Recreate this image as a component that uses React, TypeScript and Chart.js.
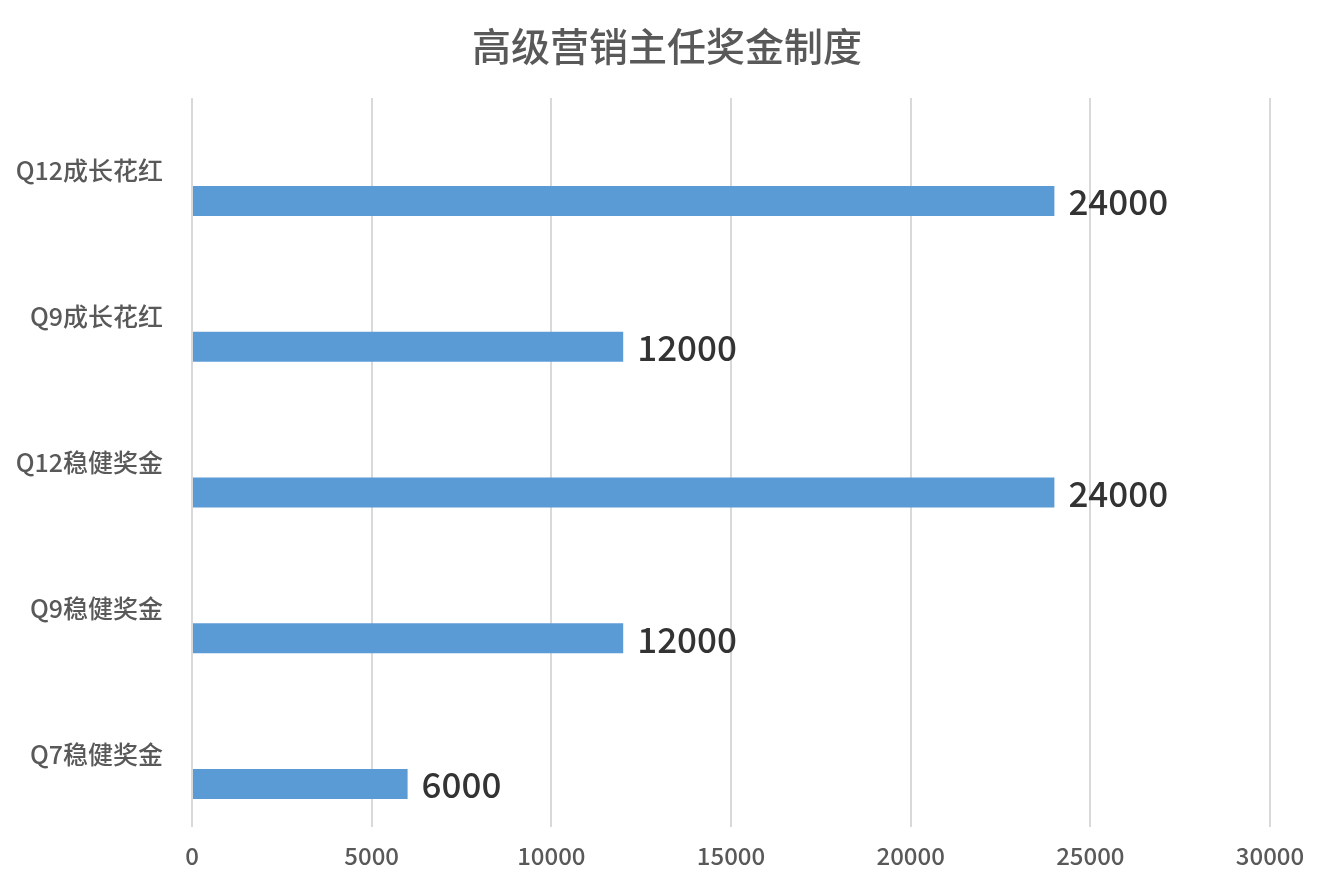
import React, { useEffect, useRef } from "react";
import { Chart, registerables } from "chart.js";

Chart.register(...registerables);

const categories = ["Q12成长花红", "Q9成长花红", "Q12稳健奖金", "Q9稳健奖金", "Q7稳健奖金"];
const emptySeries: (number | null)[] = [null, null, null, null, null];
const bonusValues = [24000, 12000, 24000, 12000, 6000];
const xTickMin = 0;
const xTickMax = 30000;
const xTickStep = 5000;
const titleText = "高级营销主任奖金制度";

const FONT = '"Noto Sans CJK SC", "Noto Sans", sans-serif';

const W = 1334;
const H = 890;

export default function App() {
  const ref = useRef<HTMLCanvasElement | null>(null);

  useEffect(() => {
    if (!ref.current) return;
    const titlePlugin = {
      id: "customTitle",
      afterDraw(chart: any) {
        const ctx = chart.ctx;
        ctx.save();
        ctx.fillStyle = "#595959";
        ctx.font = `500 39px ${FONT}`;
        ctx.textAlign = "center";
        ctx.textBaseline = "middle";
        ctx.fillText(titleText, 667, 46);
        ctx.restore();
      },
    };
    const labelPlugin = {
      id: "valueLabels",
      afterDatasetsDraw(chart: any) {
        const ctx = chart.ctx;
        const meta = chart.getDatasetMeta(1);
        ctx.save();
        ctx.fillStyle = "#333333";
        ctx.font = `500 35px ${FONT}`;
        ctx.textAlign = "left";
        ctx.textBaseline = "middle";
        meta.data.forEach((el: any, i: number) => {
          const v = bonusValues[i];
          ctx.fillText(String(v), el.x + 14, el.y + 1);
        });
        ctx.restore();
      },
    };
    const chart = new Chart(ref.current, {
      type: "bar",
      data: {
        labels: categories,
        datasets: [
          {
            label: "",
            data: emptySeries,
            backgroundColor: "#5b9bd5",
            categoryPercentage: 0.823,
            barPercentage: 0.5,
          } as any,
          {
            label: "奖金",
            data: bonusValues,
            backgroundColor: "#5b9bd5",
            categoryPercentage: 0.823,
            barPercentage: 0.5,
          } as any,
        ],
      },
      options: {
        indexAxis: "y",
        responsive: false,
        animation: false,
        layout: { padding: { top: 98, right: 64, left: 0, bottom: 0 } },
        plugins: {
          legend: { display: false },
          title: { display: false },
          tooltip: { enabled: false },
        },
        scales: {
          x: {
            type: "linear",
            min: xTickMin,
            max: xTickMax,
            ticks: {
              stepSize: xTickStep,
              color: "#595959",
              font: { family: FONT, size: 24, weight: "500" },
              padding: 14,
              maxRotation: 0,
              callback: (v: any) => String(v),
            },
            grid: { color: "#d9d9d9", lineWidth: 2, drawTicks: false },
            border: { display: false },
            afterFit(scale: any) {
              scale.height = 63;
            },
          },
          y: {
            type: "category",
            ticks: {
              color: "#595959",
              font: { family: FONT, size: 25, weight: "500" },
              padding: 29,
            },
            grid: { display: false, drawTicks: false },
            border: { display: false },
            afterFit(scale: any) {
              scale.width = 192;
            },
          },
        },
      } as any,
      plugins: [titlePlugin, labelPlugin],
    });
    return () => chart.destroy();
  }, []);

  return (
    <div style={{ position: "absolute", left: 0, top: 0, width: W, height: H, background: "#fff" }}>
      <canvas ref={ref} width={W} height={H} style={{ display: "block" }} />
    </div>
  );
}
